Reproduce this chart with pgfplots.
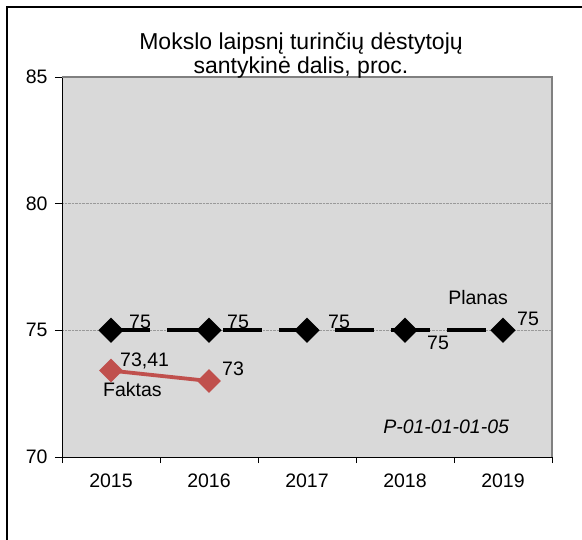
\documentclass[border=0pt]{standalone}
\usepackage{fontspec}
\setmainfont{Liberation Sans}
\usepackage{pgfplots}
\pgfplotsset{compat=1.18}
\definecolor{plotbg}{HTML}{D9D9D9}
\definecolor{faktas}{HTML}{C0504D}
\definecolor{rimas}{HTML}{808080}
\newcommand{\fs}{\fontsize{19.5bp}{23bp}\selectfont}
\newcommand{\ts}{\fontsize{23bp}{27bp}\selectfont}

\begin{document}
\begin{tikzpicture}
\begin{axis}[name=ax,
  scale only axis, width=490bp, height=380bp,
  xmin=0.5, xmax=5.5, ymin=70, ymax=85,
  axis x line*=bottom, axis y line*=left,
  axis line style={-, black, line width=0.8bp},
  axis background/.style={fill=plotbg},
  xtick={1,...,5}, xticklabels={2015,2016,2017,2018,2019},
  major x tick style={draw=none},
  minor xtick={0.5,1.5,...,5.5},
  ytick={70,75,80,85},
  tick align=outside, major tick length=7bp, minor tick length=6bp,
  tick style={black, line width=0.8bp},
  ymajorgrids, grid style={densely dotted, black!40, line width=0.6bp},
  ticklabel style={font=\fs},
  yticklabel style={xshift=-4bp},
  xticklabel style={yshift=-6bp},
  /pgf/number format/assume math mode=true,
  clip=false,
]
% Planas
\addplot[black, line width=3.8bp, dash pattern=on 39bp off 17bp,
  mark=square*, mark size=7bp, mark options={rotate=45, solid}]
  coordinates {(1,75) (2,75) (3,75) (4,75) (5,75)};
% Faktas
\addplot[faktas, line width=3.8bp,
  mark=square*, mark size=6.5bp, mark options={rotate=45}]
  coordinates {(1,73.41) (2,73)};

\draw[rimas, line width=2.5bp] (rel axis cs:0,1) -- (rel axis cs:1,1) -- (rel axis cs:1,0);

\begin{scope}[every node/.style={inner sep=0pt, font=\fs}]
\node[anchor=base west] at ([xshift=18bp,yshift=2bp]axis cs:1,75) {75};
\node[anchor=base west] at ([xshift=18bp,yshift=2bp]axis cs:2,75) {75};
\node[anchor=base west] at ([xshift=21bp,yshift=2bp]axis cs:3,75) {75};
\node[anchor=base west] at ([xshift=22bp,yshift=-19bp]axis cs:4,75) {75};
\node[anchor=base west] at ([xshift=14bp,yshift=5bp]axis cs:5,75) {75};
\node[anchor=base west] at ([xshift=9bp,yshift=4.6bp]axis cs:1,73.41) {73,41};
\node[anchor=base west] at ([xshift=13bp,yshift=5bp]axis cs:2,73) {73};
\node[anchor=base west] at (axis cs:4.44,76.0) {Planas};
\node[anchor=base west] at (axis cs:0.918,72.37) {Faktas};
\node[anchor=base west] at (axis cs:3.776,70.91) {\itshape P-01-01-01-05};
\node[anchor=base, font=\ts] at (axis cs:2.939,86.07) {Mokslo laipsnį turinčių dėstytojų};
\node[anchor=base, font=\ts] at (axis cs:2.939,85.14) {santykinė dalis, proc.};
\end{scope}
\end{axis}
\draw[black, line width=2bp] ([shift={(-55bp,-90bp)}]ax.south west) -- ([shift={(-55bp,450bp)}]ax.south west) -- ([shift={(530bp,450bp)}]ax.south west);
\pgfresetboundingbox
\path[use as bounding box] ([shift={(-62bp,-83bp)}]ax.south west) rectangle ([shift={(520bp,457bp)}]ax.south west);
\end{tikzpicture}
\end{document}
